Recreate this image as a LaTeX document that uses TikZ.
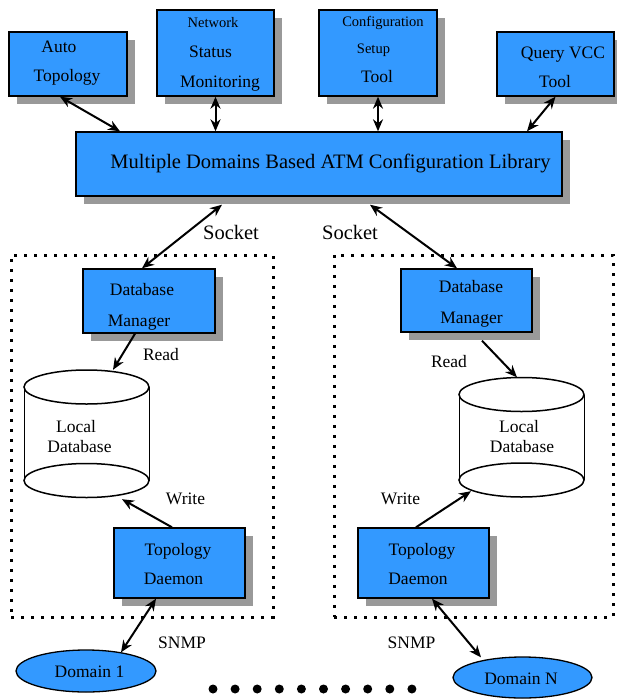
\documentclass[tikz,border=0pt]{standalone}
\usepackage{fontspec}
\setmainfont{LiberationSerif}[Extension=.ttf, UprightFont=*-Regular, BoldFont=*-Bold, ItalicFont=*-Italic, BoldItalicFont=*-BoldItalic]
\usetikzlibrary{shapes.geometric,shadows,arrows.meta,calc}
\definecolor{boxblue}{HTML}{3399FF}
\tikzset{
  bluebox/.style={rectangle, draw=black, line width=1.4pt, fill=boxblue, inner sep=0pt,
    drop shadow={shadow xshift=8pt, shadow yshift=-8pt, fill=black!40, opacity=1}},
  domnode/.style={ellipse, draw=black, line width=1.3pt, fill=boxblue, inner sep=0pt},
  grpbox/.style={rectangle, draw=black, line width=3pt, dash pattern=on 3pt off 7pt, inner sep=0pt},
  lbl/.style={anchor=base, inner sep=0pt, font=\rmfamily\fontsize{17.5}{20}\selectfont},
  lblsmall/.style={anchor=base, inner sep=0pt, font=\rmfamily\fontsize{14.5}{17}\selectfont},
  lblbig/.style={anchor=base, inner sep=0pt, font=\rmfamily\fontsize{20.5}{24}\selectfont},
  twoway/.style={line width=2pt, {Stealth[length=12pt,width=10pt]}-{Stealth[length=12pt,width=10pt]}},
  oneway/.style={line width=2pt, -{Stealth[length=12pt,width=10pt]}},
  dbside/.style={line width=1pt},
  dbcap/.style={line width=1.5pt, fill=white},
  bigdot/.style={circle, fill=black, inner sep=0pt, minimum size=9pt}
}
\begin{document}
\begin{tikzpicture}[x=1pt,y=-1pt]
\useasboundingbox (0,0) rectangle (617,699);

% dotted groups
\node[grpbox, minimum width=262pt, minimum height=362pt] (grp1) at (142,436) {};
\node[grpbox, minimum width=279pt, minimum height=362pt] (grp2) at (473.5,436) {};

% top tool boxes
\node[bluebox, minimum width=118pt, minimum height=64pt] (auto) at (68,64) {};
\node[bluebox, minimum width=117pt, minimum height=86pt] (netmon) at (215.5,53) {};
\node[bluebox, minimum width=118pt, minimum height=86pt] (config) at (378,53) {};
\node[bluebox, minimum width=117pt, minimum height=64pt] (query) at (555.5,64) {};

% library
\node[bluebox, minimum width=486pt, minimum height=64pt] (lib) at (319,164) {};

% database managers
\node[bluebox, minimum width=132pt, minimum height=64pt] (dm1) at (149,301) {};
\node[bluebox, minimum width=131pt, minimum height=63pt] (dm2) at (466.5,300.5) {};

% topology daemons
\node[bluebox, minimum width=131pt, minimum height=70pt] (td1) at (179.5,563) {};
\node[bluebox, minimum width=131pt, minimum height=70pt] (td2) at (423.5,563) {};

% domains
\node[domnode, minimum width=140pt, minimum height=42pt] (dom1) at (86,671) {};
\node[domnode, minimum width=139pt, minimum height=41pt] (domN) at (522.5,677.5) {};

% cylinders (local databases)
\node[inner sep=0pt, minimum width=125pt, minimum height=127.5pt] (db1) at (86.5,433.75) {};
\fill[white] (24,387) rectangle (149,480.5);
\draw[dbside] (24,387) -- (24,480.5) (149,387) -- (149,480.5);
\draw[dbcap] (86.5,387) ellipse [x radius=62.5, y radius=17];
\draw[dbcap] (86.5,480.5) ellipse [x radius=62.5, y radius=17];

\node[inner sep=0pt, minimum width=125pt, minimum height=119.5pt] (db2) at (521.5,437.25) {};
\fill[white] (459,394.5) rectangle (584,480);
\draw[dbside] (459,394.5) -- (459,480) (584,394.5) -- (584,480);
\draw[dbcap] (521.5,394.5) ellipse [x radius=62.5, y radius=17];
\draw[dbcap] (521.5,480) ellipse [x radius=62.5, y radius=17];

% connectors: tools <-> library
\draw[twoway] ([xshift=-8pt]auto.south) -- ([xshift=-199pt]lib.north);
\draw[twoway] (netmon.south) -- (netmon.south |- lib.north);
\draw[twoway] (config.south) -- (config.south |- lib.north);
\draw[twoway] (query.south) -- ([xshift=208pt]lib.north);

% sockets
\draw[twoway] ([xshift=-97pt,yshift=-8pt]lib.south) -- ([xshift=-7pt]dm1.north);
\draw[twoway] ([xshift=51pt,yshift=-8pt]lib.south) -- ([xshift=-9.5pt]dm2.north);

% read
\draw[oneway] ([xshift=-14pt]dm1.south) -- ([xshift=26.5pt]db1.north);
\draw[oneway] ([xshift=15.5pt,yshift=-8pt]dm2.south) -- ([xshift=-4.5pt]db2.north);

% write
\draw[oneway] ([xshift=-7.5pt]td1.north) -- ([xshift=35.5pt,yshift=-1.5pt]db1.south);
\draw[oneway] ([xshift=-7.5pt]td2.north) -- ([xshift=-50.5pt,yshift=6pt]db2.south);

% snmp
\draw[twoway] ([xshift=-23.5pt]td1.south) -- ([xshift=35pt,yshift=-3pt]dom1.north);
\draw[twoway] ([xshift=8.5pt]td2.south) -- ([xshift=-41.5pt,yshift=-1pt]domN.north);

% texts
\node[lbl] (tAuto) at (59,52) {Auto};
\node[lbl] (tTopo) at (67,81) {Topology};
\node[lblsmall] (tNet) at (213,27.5) {Network};
\node[lbl] (tStat) at (210.5,57) {Status};
\node[lbl] (tMon) at (220,87) {Monitoring};
\node[lblsmall] (tConf) at (383,26.5) {Configuration};
\node[lblsmall] (tSet) at (373.5,53) {Setup};
\node[lbl] (tTool) at (377,82.5) {Tool};
\node[lbl] (tQuery) at (563,58) {Query VCC};
\node[lbl] (tTool2) at (555,87.5) {Tool};
\node[lblbig] (tLib) at (330.5,168) {Multiple Domains Based ATM Configuration Library};
\node[lblbig] (tSock1) at (231,239) {Socket};
\node[lblbig] (tSock2) at (350,239) {Socket};
\node[lbl] (tDb1) at (142,295) {Database};
\node[lbl] (tMg1) at (139,326) {Manager};
\node[lbl] (tDb2) at (471,292.5) {Database};
\node[lbl] (tMg2) at (471.5,323) {Manager};
\node[lbl] (tRead1) at (161,360) {Read};
\node[lbl] (tRead2) at (449,367) {Read};
\node[lbl] (tLoc1) at (76,432) {Local};
\node[lbl] (tLdb1) at (79.5,452) {Database};
\node[lbl] (tLoc2) at (519,432) {Local};
\node[lbl] (tLdb2) at (522,452) {Database};
\node[lbl] (tWr1) at (185.5,504) {Write};
\node[lbl] (tWr2) at (400.5,504) {Write};
\node[lbl] (tTd1) at (178,555) {Topology};
\node[lbl] (tDm1) at (173.5,584) {Daemon};
\node[lbl] (tTd2) at (422,555) {Topology};
\node[lbl] (tDm2) at (418,584) {Daemon};
\node[lbl] (tSn1) at (182,648) {SNMP};
\node[lbl] (tSn2) at (411.5,648) {SNMP};
\node[lbl] (tDom1) at (89.5,677) {Domain 1};
\node[lbl] (tDomN) at (521,684) {Domain N};

% ellipsis dots
\foreach \i in {0,...,9} {
  \node[bigdot] (dot\i) at (213+22.1*\i,689) {};
}
\end{tikzpicture}
\end{document}
